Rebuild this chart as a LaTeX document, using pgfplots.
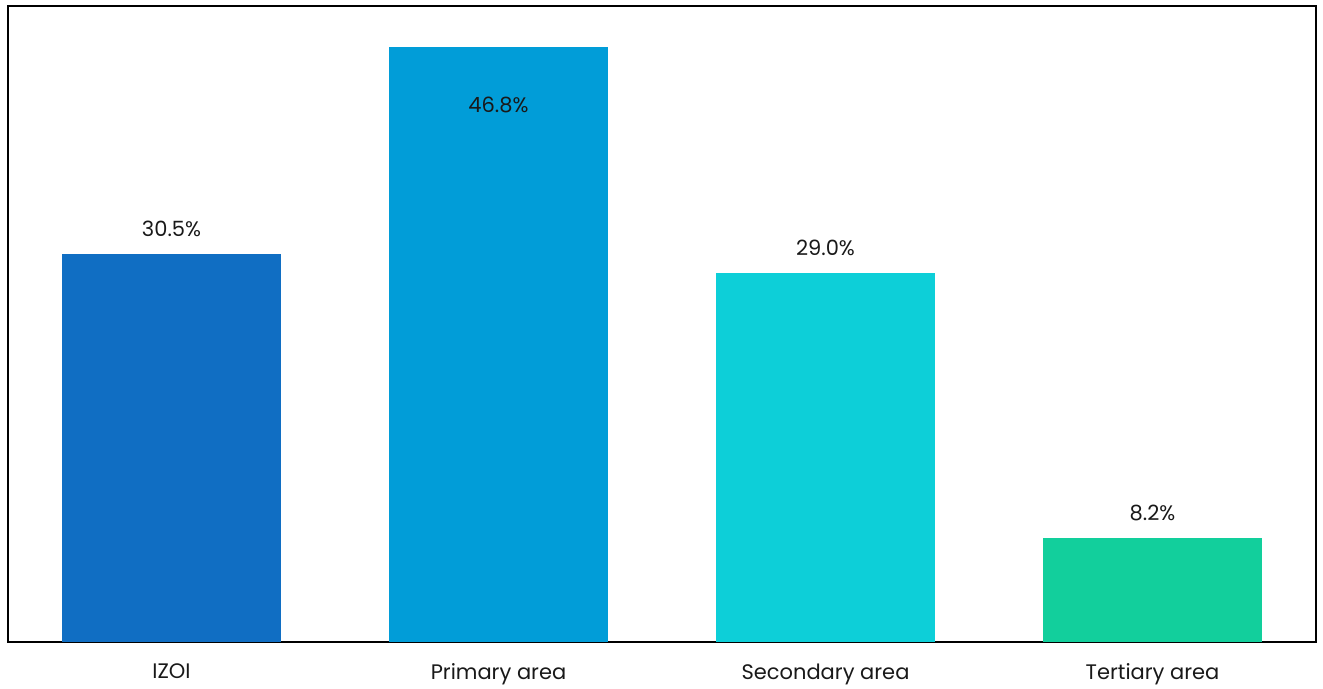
\documentclass[border=0pt]{standalone}
\usepackage{pgfplots}
\pgfplotsset{compat=1.18}
\usepackage{fontspec}
\setmainfont{Poppins}
\definecolor{cA}{HTML}{106EC3}
\definecolor{cB}{HTML}{019DD8}
\definecolor{cC}{HTML}{0DCFD8}
\definecolor{cD}{HTML}{12CF9C}
\begin{document}
\begin{tikzpicture}
\begin{axis}[
  name=ax,
  scale only axis,
  width=1308pt, height=636pt,
  xmin=-0.5, xmax=3.5, ymin=0, ymax=50,
  ybar, bar width=219pt, bar shift=0pt,
  xtick={0,1,2,3},
  xticklabels={IZOI, Primary area, Secondary area, Tertiary area},
  ytick=\empty,
  major tick length=0pt,
  axis line style={line width=2pt, black},
  tick label style={font=\fontsize{21}{24}\selectfont, text=black!90},
  xticklabel style={yshift=-18pt},
  /pgf/number format/assume math mode=true,
  nodes near coords={\pgfmathprintnumber[fixed, fixed zerofill, precision=1, assume math mode=true]{\pgfplotspointmeta}\%},
  every node near coord/.append style={font=\fontsize{21}{24}\selectfont, text=black!90, anchor=center, yshift=25pt},
  clip=false,
]
\addplot[draw=none, fill=cA] coordinates {(0,30.5)};
\addplot[draw=none, fill=cB, every node near coord/.append style={yshift=-83pt}] coordinates {(1,46.8)};
\addplot[draw=none, fill=cC] coordinates {(2,29.0)};
\addplot[draw=none, fill=cD] coordinates {(3,8.2)};
\end{axis}
\path ([shift={(-8pt,-44pt)}]ax.south west) ([shift={(7pt,6pt)}]ax.north east);
\end{tikzpicture}
\end{document}
